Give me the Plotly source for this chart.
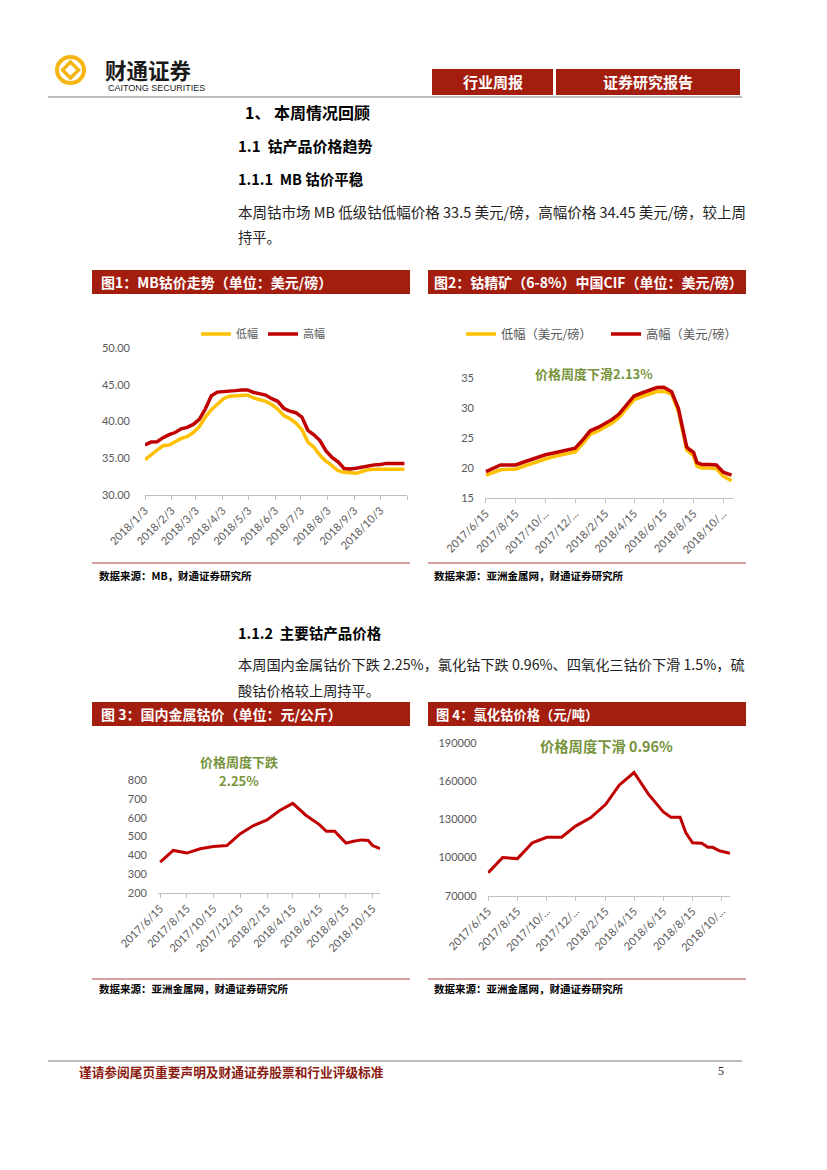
import pandas as pd
import plotly.graph_objects as go

W, H = 827, 1170

# chart 1: MB cobalt price, USD/lb, weekly
mb_dates = pd.date_range("2018-01-03", periods=44, freq="7D")
mb_low = [34.8, 35.5, 36.1, 36.7, 36.8, 37.25, 37.7, 37.95, 38.5, 39.3,
          40.6, 41.6, 42.4, 43.1, 43.45, 43.5, 43.55, 43.6, 43.2, 43.0,
          42.75, 42.3, 41.7, 40.8, 40.4, 39.8, 38.9, 37.2, 36.5, 35.4,
          34.6, 34.0, 33.3, 33.1, 33.05, 32.95, 33.2, 33.45, 33.5, 33.5,
          33.5, 33.5, 33.5, 33.5]
mb_high = [36.8, 37.2, 37.25, 37.8, 38.2, 38.5, 39.0, 39.2, 39.6, 40.3,
           41.7, 43.5, 44.0, 44.05, 44.05, 44.2, 44.3, 44.3, 43.95, 43.8,
           43.6, 43.1, 42.75, 41.8, 41.4, 41.2, 40.6, 38.8, 38.2, 37.4,
           36.0, 35.1, 34.5, 33.6, 33.55, 33.65, 33.8, 34.05, 34.1, 34.15,
           34.3, 34.3, 34.3, 34.3]
mb_tickvals = ["2018-01-03", "2018-02-03", "2018-03-03", "2018-04-03", "2018-05-03",
               "2018-06-03", "2018-07-03", "2018-08-03", "2018-09-03", "2018-10-03",
               "2018-11-03"]
mb_ticktext = ["2018/1/3", "2018/2/3", "2018/3/3", "2018/4/3", "2018/5/3",
               "2018/6/3", "2018/7/3", "2018/8/3", "2018/9/3", "2018/10/3", ""]

# chart 2: cobalt concentrate CIF China, USD/lb
cif_dates = ["2017-06-15", "2017-07-01", "2017-07-15", "2017-08-01", "2017-08-15",
             "2017-09-01", "2017-09-15", "2017-10-01", "2017-10-15", "2017-11-01",
             "2017-11-15", "2017-12-01", "2017-12-15", "2018-01-01", "2018-01-15",
             "2018-02-01", "2018-02-15", "2018-03-01", "2018-03-15", "2018-04-01",
             "2018-04-15", "2018-05-01", "2018-05-15", "2018-06-01", "2018-06-15",
             "2018-07-01", "2018-07-15", "2018-07-22", "2018-08-01", "2018-08-08",
             "2018-08-15", "2018-08-22", "2018-09-01", "2018-09-15", "2018-10-01",
             "2018-10-15", "2018-11-01"]
cif_low = [18.8, 19.3, 19.7, 19.8, 19.8, 20.3, 20.7, 21.2, 21.5, 21.9,
           22.2, 22.5, 22.7, 24.2, 25.6, 26.2, 26.8, 27.5, 28.4, 30.0,
           31.4, 31.9, 32.3, 32.75, 32.8, 32.3, 29.4, 26.5, 23.0, 22.5,
           22.0, 20.3, 20.0, 20.0, 19.9, 18.6, 17.9]
cif_high = [19.4, 20.0, 20.5, 20.5, 20.5, 21.0, 21.4, 21.9, 22.2, 22.5,
            22.8, 23.1, 23.3, 24.8, 26.2, 26.8, 27.4, 28.1, 29.0, 30.6,
            32.0, 32.5, 32.9, 33.4, 33.45, 32.7, 29.9, 27.0, 23.5, 23.0,
            22.6, 20.9, 20.6, 20.6, 20.5, 19.3, 18.8]

# chart 3: domestic cobalt metal, CNY/kg
co_dates = ["2017-06-15", "2017-07-15", "2017-08-15", "2017-09-15", "2017-10-15",
            "2017-11-15", "2017-12-15", "2018-01-15", "2018-02-15", "2018-03-15",
            "2018-04-15", "2018-05-15", "2018-06-15", "2018-07-01", "2018-07-20",
            "2018-08-15", "2018-09-01", "2018-09-20", "2018-10-05", "2018-10-15",
            "2018-11-01"]
co_price = [364, 426, 412, 435, 447, 452, 514, 558, 588, 637,
            676, 613, 563, 528, 528, 465, 475, 482, 479, 452, 435]

# chart 4: cobalt chloride, CNY/t
cl_dates = ["2017-06-15", "2017-07-15", "2017-08-15", "2017-09-15", "2017-10-15",
            "2017-11-15", "2017-12-15", "2018-01-15", "2018-02-15", "2018-03-15",
            "2018-04-15", "2018-05-15", "2018-06-15", "2018-07-01", "2018-07-20",
            "2018-08-01", "2018-08-15", "2018-09-03", "2018-09-16", "2018-09-26",
            "2018-10-10", "2018-11-01"]
cl_price = [88000, 100000, 99200, 111700, 116000, 116000, 125000, 131500, 142000, 157000,
            167000, 150000, 136000, 131700, 131700, 119600, 111700, 111300, 108100, 108100,
            105400, 103400]

bi_tickvals = ["2017-06-15", "2017-08-15", "2017-10-15", "2017-12-15", "2018-02-15",
               "2018-04-15", "2018-06-15", "2018-08-15", "2018-10-15"]
bi_ticktext_short = ["2017/6/15", "2017/8/15", "2017/10/...", "2017/12/...", "2018/2/15",
                     "2018/4/15", "2018/6/15", "2018/8/15", "2018/10/..."]
bi_ticktext_full = ["2017/6/15", "2017/8/15", "2017/10/15", "2017/12/15", "2018/2/15",
                    "2018/4/15", "2018/6/15", "2018/8/15", "2018/10/15"]

RED = "#C00000"
YELLOW = "#FFC000"
BAR = "#A41E10"
GREEN = "#77933C"
GRAY = "#595959"
CJK = "Noto Sans CJK SC"
NUM = "Lato"


def px(x):
    return x / W


def py(y):
    return 1 - y / H


fig = go.Figure()

fig.add_trace(go.Scatter(x=mb_dates, y=mb_low, name="低幅", mode="lines",
                         line=dict(color=YELLOW, width=3.5), xaxis="x", yaxis="y", legend="legend"))
fig.add_trace(go.Scatter(x=mb_dates, y=mb_high, name="高幅", mode="lines",
                         line=dict(color=RED, width=3.5), xaxis="x", yaxis="y", legend="legend"))
fig.add_trace(go.Scatter(x=cif_dates, y=cif_low, name="低幅（美元/磅）", mode="lines",
                         line=dict(color=YELLOW, width=3.5), xaxis="x2", yaxis="y2", legend="legend2"))
fig.add_trace(go.Scatter(x=cif_dates, y=cif_high, name="高幅（美元/磅）", mode="lines",
                         line=dict(color=RED, width=3.5), xaxis="x2", yaxis="y2", legend="legend2"))
fig.add_trace(go.Scatter(x=co_dates, y=co_price, mode="lines", showlegend=False,
                         line=dict(color=RED, width=3), xaxis="x3", yaxis="y3"))
fig.add_trace(go.Scatter(x=cl_dates, y=cl_price, mode="lines", showlegend=False,
                         line=dict(color=RED, width=3), xaxis="x4", yaxis="y4"))

tick_font = dict(family=NUM, size=11, color=GRAY)


def xax(x0, x1, anchor, rng, vals, text):
    return dict(domain=[px(x0), px(x1)], anchor=anchor, type="date", range=rng,
                tickvals=vals, ticktext=text, tickangle=-45, tickfont=tick_font,
                showgrid=False, zeroline=False, showline=True, linecolor="#BFBFBF",
                linewidth=1, ticks="outside", ticklen=4, tickcolor="#BFBFBF",
                automargin=False)


def yax(y0, y1, anchor, rng, vals, fmt=None, standoff=10):
    d = dict(domain=[py(y1), py(y0)], anchor=anchor, range=rng, tickvals=vals,
             tickfont=tick_font, showgrid=False, zeroline=False, showline=False,
             ticks="", ticklabelstandoff=standoff, automargin=False)
    if fmt:
        d["tickformat"] = fmt
    return d


fig.update_layout(
    width=W, height=H, margin=dict(l=0, r=0, t=0, b=0, pad=0, autoexpand=False),
    paper_bgcolor="white", plot_bgcolor="white",
    xaxis=xax(145, 407, "y", ["2018-01-03", "2018-11-03"], mb_tickvals, mb_ticktext),
    yaxis=yax(348, 495, "x", [30, 50], [30, 35, 40, 45, 50], ".2f", 14),
    xaxis2=xax(485, 733, "y2", ["2017-06-13", "2018-11-04"], bi_tickvals, bi_ticktext_short),
    yaxis2=yax(378, 498, "x2", [15, 35], [15, 20, 25, 30, 35]),
    xaxis3=xax(158, 380, "y3", ["2017-06-10", "2018-11-01"], bi_tickvals, bi_ticktext_full),
    yaxis3=yax(780, 893, "x3", [200, 800], [200, 300, 400, 500, 600, 700, 800]),
    xaxis4=xax(487.7, 730, "y4", ["2017-06-14", "2018-11-01"], bi_tickvals, bi_ticktext_short),
    yaxis4=yax(743.3, 895.7, "x4", [70000, 190000], [70000, 100000, 130000, 160000, 190000], "d"),
    legend=dict(orientation="h", x=px(263), y=py(334), xanchor="center", yanchor="middle",
                font=dict(family=CJK, size=11, color=GRAY), bgcolor="rgba(0,0,0,0)"),
    legend2=dict(orientation="h", x=px(461), y=py(334), xanchor="left", yanchor="middle",
                 entrywidth=100, entrywidthmode="pixels",
                 font=dict(family=CJK, size=12.3, color=GRAY), bgcolor="rgba(0,0,0,0)"),
)

shapes = []
# header boxes and rules
for x0, x1 in [(432, 553), (556, 740)]:
    shapes.append(dict(type="rect", xref="paper", yref="paper", x0=px(x0), x1=px(x1),
                       y0=py(95), y1=py(69), fillcolor=BAR, line=dict(width=0)))
for y in [97, 1061]:
    shapes.append(dict(type="line", xref="paper", yref="paper", x0=px(48), x1=px(742),
                       y0=py(y), y1=py(y), line=dict(color="#BDBDBD", width=2)))
# figure title bars
for x0, y0 in [(92, 270), (428, 270), (92, 702), (428, 702)]:
    shapes.append(dict(type="rect", xref="paper", yref="paper", x0=px(x0), x1=px(x0 + 318),
                       y0=py(y0 + 24), y1=py(y0), fillcolor=BAR, line=dict(width=0)))
# source rules
for x0, y in [(92, 563), (428, 563), (92, 979), (428, 979)]:
    shapes.append(dict(type="line", xref="paper", yref="paper", x0=px(x0), x1=px(x0 + 318),
                       y0=py(y), y1=py(y), line=dict(color="#B0413E", width=1)))
# logo
LOGO = "#F5B512"
shapes.append(dict(type="circle", xref="paper", yref="paper", x0=px(57), x1=px(84),
                   y0=py(83), y1=py(57), line=dict(color=LOGO, width=4)))
shapes.append(dict(type="path", xref="paper", yref="paper",
                   path=f"M {px(70.5)} {py(62)} L {px(78.5)} {py(70)} L {px(70.5)} {py(78)} "
                        f"L {px(62.5)} {py(70)} Z",
                   line=dict(color=LOGO, width=3.5)))
fig.update_layout(shapes=shapes)

ann = []


def note(text, x, y, size, color="#000000", xanchor="left", family=CJK):
    ann.append(dict(text=text, x=px(x), y=py(y), xref="paper", yref="paper",
                    xanchor=xanchor, yanchor="middle", showarrow=False,
                    font=dict(family=family, size=size, color=color)))


note("<b>财通证券</b>", 103, 69, 21.5, "#1A1A1A")
note("CAITONG SECURITIES", 106, 88, 9, "#1A1A1A", family="Liberation Sans")
note("<b>行业周报</b>", 492.5, 82, 15, "white", "center")
note("<b>证券研究报告</b>", 648, 82, 15, "white", "center")

note("<b>1、 本周情况回顾</b>", 243, 112, 16)
note("<b>1.1  钴产品价格趋势</b>", 236, 145, 15)
note("<b>1.1.1  MB 钴价平稳</b>", 236, 178, 14.5)
note("本周钴市场 MB 低级钴低幅价格 33.5 美元/磅，高幅价格 34.45 美元/磅，较上周", 236, 211, 14.5, "#222222")
note("持平。", 236, 237, 14.3, "#222222")

note("<b>图1：MB钴价走势（单位：美元/磅）</b>", 99, 282, 14, "white")
note("<b>图2：钴精矿（6-8%）中国CIF（单位：美元/磅）</b>", 432, 282, 14, "white")
note("<b>价格周度下滑2.13%</b>", 594, 373, 13, GREEN, "center")
note("<b>数据来源：MB，财通证券研究所</b>", 97, 575, 10.5)
note("<b>数据来源：亚洲金属网，财通证券研究所</b>", 432, 575, 10.5)

note("<b>1.1.2  主要钴产品价格</b>", 236, 632, 14.5)
note("本周国内金属钴价下跌 2.25%，氯化钴下跌 0.96%、四氧化三钴价下滑 1.5%，硫", 236, 664, 14.2, "#222222")
note("酸钴价格较上周持平。", 236, 690, 14.2, "#222222")

note("<b>图 3：国内金属钴价（单位：元/公斤）</b>", 99, 714, 14, "white")
note("<b>图 4：氯化钴价格（元/吨）</b>", 434, 714, 13.3, "white")
note("<b>价格周度下跌</b>", 239, 761, 13, GREEN, "center")
note("<b>2.25%</b>", 239, 780, 13, GREEN, "center")
note("<b>价格周度下滑 0.96%</b>", 606, 745, 14.3, GREEN, "center")
note("<b>数据来源：亚洲金属网，财通证券研究所</b>", 97, 988, 10.5)
note("<b>数据来源：亚洲金属网，财通证券研究所</b>", 432, 988, 10.5)

note("<b>谨请参阅尾页重要声明及财通证券股票和行业评级标准</b>", 77, 1071, 12.7, "#8B1A10")
note("5", 721, 1071, 12, "#222222", "center", "Liberation Serif")

fig.update_layout(annotations=ann)

# the default page margin would shift the figure 8px right and down
fig.write_html("out.html", config={"displayModeBar": False},
               post_script="document.body.style.margin='0px';")
